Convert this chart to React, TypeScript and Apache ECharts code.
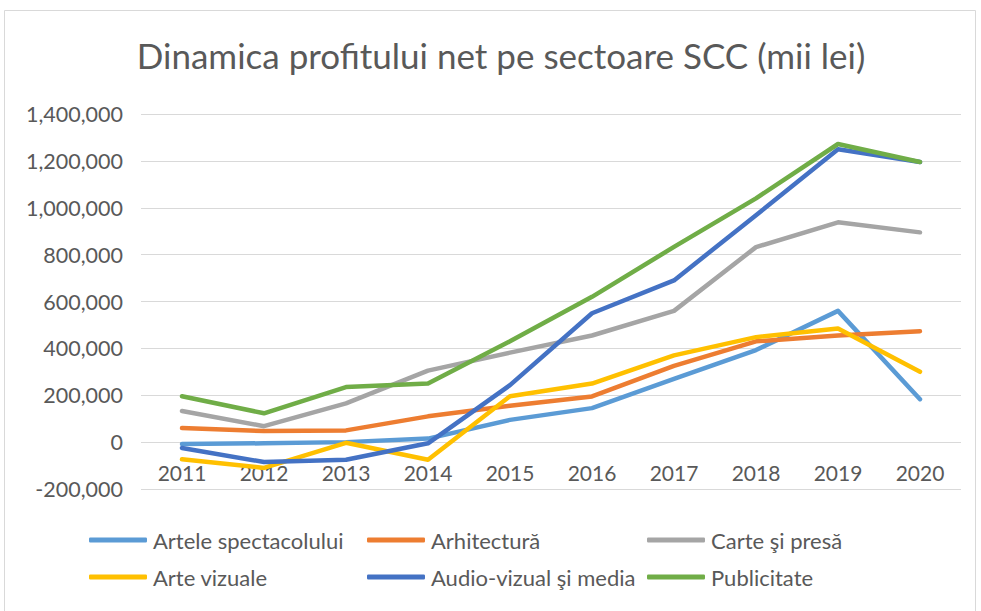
import React, { useEffect, useRef } from "react";
import * as echarts from "echarts";

const years = ["2011", "2012", "2013", "2014", "2015", "2016", "2017", "2018", "2019", "2020"];
const arteleSpectacolului = [-8000, -5000, 0, 15000, 95000, 145000, 270000, 393000, 560000, 183000];
const arhitectura = [60000, 47000, 50000, 110000, 155000, 195000, 325000, 430000, 455000, 473000];
const cartePresa = [133000, 68000, 165000, 305000, 382000, 455000, 560000, 832000, 938000, 895000];
const arteVizuale = [-73000, -110000, -3000, -75000, 196000, 250000, 370000, 448000, 485000, 300000];
const audioVizual = [-25000, -85000, -75000, -5000, 243000, 550000, 690000, 968000, 1250000, 1195000];
const publicitate = [196000, 123000, 235000, 250000, 430000, 620000, 833000, 1040000, 1272000, 1195000];

const seriesNames = [
  "Artele spectacolului",
  "Arhitectură",
  "Carte şi presă",
  "Arte vizuale",
  "Audio-vizual şi media",
  "Publicitate",
];
const seriesData = [arteleSpectacolului, arhitectura, cartePresa, arteVizuale, audioVizual, publicitate];
const colors = ["#5B9BD5", "#ED7D31", "#A5A5A5", "#FFC000", "#4472C4", "#70AD47"];

const Y_MIN = -200000;
const Y_MAX = 1400000;
const GRID_TOP = 114;
const GRID_BOTTOM = 122;
const CHART_H = 611;

const FONT = "Lato";
const TEXT = "#595959";

export default function App() {
  const ref = useRef<HTMLDivElement>(null);
  useEffect(() => {
    if (!ref.current) return;
    const chart = echarts.init(ref.current, undefined, { renderer: "svg" });
    const gridH = CHART_H - GRID_TOP - GRID_BOTTOM;
    const zeroShift = ((0 - Y_MIN) / (Y_MAX - Y_MIN)) * gridH;
    const legendCol = (names: string[], left: number) => ({
      show: true,
      orient: "vertical",
      left,
      top: 527,
      padding: 0,
      itemGap: 11,
      itemWidth: 58,
      itemHeight: 5,
      icon: "roundRect",
      data: names,
      textStyle: {
        fontFamily: FONT,
        fontSize: 22,
        lineHeight: 26,
        color: TEXT,
        padding: [0, 0, 0, 1],
      },
    });
    chart.setOption({
      animation: false,
      backgroundColor: "#ffffff",
      color: colors,
      title: {
        text: "Dinamica profitului net pe sectoare SCC (mii lei)",
        left: 496,
        textAlign: "center",
        top: 32,
        textStyle: { fontFamily: FONT, fontSize: 35, fontWeight: "normal", color: TEXT },
      },
      legend: [
        legendCol([seriesNames[0], seriesNames[3]], 89),
        legendCol([seriesNames[1], seriesNames[4]], 367),
        legendCol([seriesNames[2], seriesNames[5]], 647),
      ],
      grid: { left: 141, right: 20, top: GRID_TOP, bottom: GRID_BOTTOM, containLabel: false },
      xAxis: {
        type: "category",
        data: years,
        boundaryGap: true,
        offset: -zeroShift,
        axisLine: { show: false, onZero: false },
        axisTick: { show: false },
        axisLabel: { fontFamily: FONT, fontSize: 21, color: TEXT, margin: 20 },
      },
      yAxis: {
        type: "value",
        min: Y_MIN,
        max: Y_MAX,
        interval: 200000,
        axisLine: { show: false },
        axisTick: { show: false },
        splitLine: { lineStyle: { color: "#D9D9D9", width: 1 } },
        axisLabel: {
          fontFamily: FONT,
          fontSize: 21.5,
          color: TEXT,
          margin: 18,
          formatter: (v: number) => v.toLocaleString("en-US"),
        },
      },
      graphic: [
        {
          type: "rect",
          silent: true,
          shape: { x: 4.5, y: 10.5, width: 971, height: 620 },
          style: { fill: "none", stroke: "#D9D9D9", lineWidth: 1 },
        },
      ],
      series: seriesNames.map((name, i) => ({
        type: "line",
        name,
        data: seriesData[i],
        symbol: "none",
        showSymbol: false,
        lineStyle: { width: 4.5, color: colors[i], cap: "round", join: "round" },
        itemStyle: { color: colors[i] },
        emphasis: { disabled: true },
      })),
    });
    return () => chart.dispose();
  }, []);
  return (
    <div
      ref={ref}
      style={{ position: "fixed", left: 0, top: 0, width: 981, height: 611, background: "#fff" }}
    />
  );
}
